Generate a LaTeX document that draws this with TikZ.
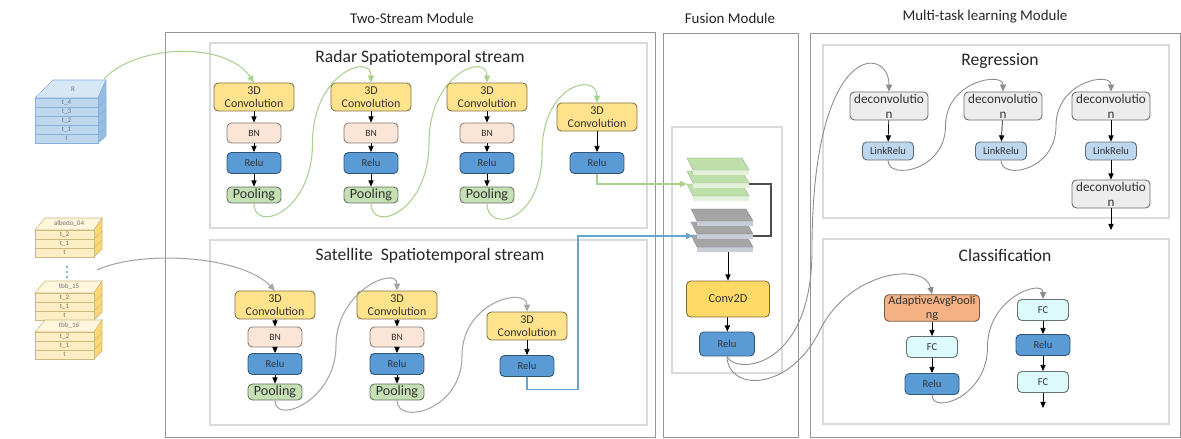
\documentclass[tikz,border=0pt]{standalone}
\usepackage{fontspec}
\setmainfont{Carlito}
\usetikzlibrary{arrows.meta,calc}

\definecolor{convfill}{RGB}{255,226,140}
\definecolor{bnfill}{RGB}{251,229,214}
\definecolor{relufill}{RGB}{91,155,213}
\definecolor{poolfill}{RGB}{197,224,180}
\definecolor{ctwofill}{RGB}{255,217,102}
\definecolor{defill}{RGB}{237,237,237}
\definecolor{lrfill}{RGB}{189,215,238}
\definecolor{aapfill}{RGB}{244,177,131}
\definecolor{fcfill}{RGB}{221,250,252}
\definecolor{modline}{RGB}{150,150,150}
\definecolor{subline}{RGB}{218,218,218}
\definecolor{radarflow}{RGB}{169,209,142}
\definecolor{satflow}{RGB}{165,165,165}
\definecolor{satlink}{RGB}{100,165,205}
\definecolor{rfront}{RGB}{189,215,238}
\definecolor{rtop}{RGB}{214,231,246}
\definecolor{rside}{RGB}{150,190,228}
\definecolor{redge}{RGB}{140,175,215}
\definecolor{sfront}{RGB}{253,238,195}
\definecolor{stop}{RGB}{255,246,220}
\definecolor{sside}{RGB}{250,215,115}
\definecolor{sedge}{RGB}{205,185,125}
\definecolor{gtop}{RGB}{190,222,170}
\definecolor{gedge}{RGB}{228,242,220}
\definecolor{ktop}{RGB}{165,165,165}
\definecolor{kedge}{RGB}{200,205,215}

\tikzset{
  box/.style={draw, rounded corners=2.5pt, align=center, inner sep=0.5pt, text=black!80, line width=0.5pt},
  conv/.style={box, fill=convfill, draw=convfill!50!black, minimum width=1.6cm, minimum height=0.56cm, font=\fontsize{6.8}{7.5}\selectfont},
  bn/.style={box, fill=bnfill, draw=bnfill!55!black, minimum width=1.08cm, minimum height=0.4cm, font=\fontsize{5.5}{6}\selectfont},
  relu/.style={box, fill=relufill, draw=relufill!55!black, minimum width=1.08cm, minimum height=0.42cm, font=\fontsize{6}{7}\selectfont},
  pool/.style={box, fill=poolfill, draw=poolfill!50!black, minimum width=1.08cm, minimum height=0.32cm, font=\fontsize{8}{9}\selectfont},
  convtwo/.style={box, fill=ctwofill, draw=ctwofill!50!black, minimum width=1.66cm, minimum height=0.72cm, font=\fontsize{7}{8}\selectfont},
  deconv/.style={box, fill=defill, draw=defill!45!black, minimum width=1.56cm, minimum height=0.56cm, font=\fontsize{7.5}{8.5}\selectfont},
  lrelu/.style={box, fill=lrfill, draw=lrfill!50!black, minimum width=1.02cm, minimum height=0.36cm, font=\fontsize{6}{7}\selectfont},
  aap/.style={box, fill=aapfill, draw=aapfill!50!black, minimum width=1.9cm, minimum height=0.52cm, font=\fontsize{7}{8}\selectfont},
  fc/.style={box, fill=fcfill, draw=fcfill!45!black, minimum width=1.02cm, minimum height=0.42cm, font=\fontsize{6}{7}\selectfont},
  head/.style={font=\fontsize{8.5}{10}\selectfont, text=black!85},
  title/.style={font=\fontsize{10}{12}\selectfont, text=black!85},
  stklab/.style={font=\fontsize{4}{4}\selectfont, text=black!55, inner sep=0pt},
  module/.style={draw=modline, line width=0.5pt},
  stream/.style={draw=subline, line width=0.6pt},
  nxt/.style={-{Triangle[length=3.5pt,width=3pt]}, black, line width=0.4pt},
  rflow/.style={-{Triangle[length=4pt,width=3.5pt]}, radarflow, line width=0.6pt},
  sflow/.style={-{Triangle[length=4pt,width=3.5pt]}, satflow, line width=0.6pt},
  mflow/.style={-{Triangle[length=4pt,width=3.5pt]}, black!45, line width=0.5pt},
}

\begin{document}
\begin{tikzpicture}[x=0.02cm, y=-0.02cm]

\useasboundingbox (0,0) rectangle (1181,439);
\fill[white] (0,0) rectangle (1181,439);

% modules
\draw[module] (165,32) rectangle (655,437);
\draw[module] (663,33) rectangle (798,437);
\draw[module] (810,33) rectangle (1180,437);
\draw[stream] (210,43) rectangle (647,228);
\draw[stream] (210,240) rectangle (647,425);
\draw[stream] (672,127) rectangle (782,373);
\draw[stream] (823,45) rectangle (1169,218);
\draw[stream] (823,239) rectangle (1169,424);

\node[head] (tsm) at (412,18) {Two-Stream Module};
\node[head] (fm) at (730,18) {Fusion Module};
\node[head] (mtl) at (985,17) {Multi-task learning Module};
\node[title] (rst) at (420,58) {Radar Spatiotemporal stream};
\node[title] (sst) at (430,256) {Satellite\ \ Spatiotemporal stream};
\node[title] (reg) at (1000,61) {Regression};
\node[title] (cls) at (1005,255) {Classification};

% radar input
\filldraw[fill=rtop, draw=redge, line width=0.3pt] (35,98) -- (53,80) -- (106,80) -- (98,98) -- cycle;
\filldraw[fill=rside, draw=redge, line width=0.3pt] (98,98) -- (106,80) -- (106,136) -- (98,143) -- cycle;
\foreach \lab [count=\i] in {t\_4,t\_3,t\_2,t\_1,t} {
  \filldraw[fill=rfront, draw=redge, line width=0.3pt] (35,89+9*\i) rectangle (98,98+9*\i);
  \draw[redge, line width=0.3pt] (98,98+9*\i) -- (106,91+9*\i);
  \node[stklab] (rin\i) at (66.5,93.5+9*\i) {\lab};
}
\node[stklab] (rintop) at (73,89) {R};
\coordinate (rsrc) at (104,79);

% satellite input
\foreach \y/\lab/\nm in {230/albedo\_04/sa, 293/tbb\_15/sb, 332/tbb\_16/sc} {
  \filldraw[fill=stop, draw=sedge, line width=0.3pt] (35,\y) -- (45,\y-12) -- (102,\y-12) -- (94,\y) -- cycle;
  \filldraw[fill=sside, draw=sedge, line width=0.3pt] (94,\y) -- (102,\y-12) -- (102,\y+19) -- (94,\y+27) -- cycle;
  \node[stklab] (\nm top) at (69,\y-6) {\lab};
  \foreach \t [count=\i] in {t\_2,t\_1,t} {
    \filldraw[fill=sfront, draw=sedge, line width=0.3pt] (35,\y+9*\i-9) rectangle (94,\y+9*\i);
    \draw[sedge, line width=0.3pt] (94,\y+9*\i) -- (102,\y+9*\i-8);
    \node[stklab] (\nm\i) at (64.5,\y+9*\i-4.5) {\t};
  }
}
\foreach \k in {0,1,2}
  \fill[relufill] (67,267+5*\k) circle (0.6pt);
\coordinate (ssrc) at (97,270);

% radar stream
\node[conv] (rc1) at (254,97) {3D\\Convolution};
\node[bn] (rb1) at (254,133) {BN};
\node[relu] (rr1) at (254,163) {Relu};
\node[pool] (rp1) at (254,195) {Pooling};
\node[conv] (rc2) at (371,97) {3D\\Convolution};
\node[bn] (rb2) at (371,133) {BN};
\node[relu] (rr2) at (371,163) {Relu};
\node[pool] (rp2) at (371,195) {Pooling};
\node[conv] (rc3) at (487,97) {3D\\Convolution};
\node[bn] (rb3) at (487,133) {BN};
\node[relu] (rr3) at (487,163) {Relu};
\node[pool] (rp3) at (487,195) {Pooling};
\node[conv] (rc4) at (597,117) {3D\\Convolution};
\node[relu] (rr4) at (597,163) {Relu};

% satellite stream
\node[conv] (sc1) at (275,305) {3D\\Convolution};
\node[bn] (sb1) at (275,337) {BN};
\node[relu] (sr1) at (275,364) {Relu};
\node[pool] (sp1) at (275,392) {Pooling};
\node[conv] (sc2) at (397,305) {3D\\Convolution};
\node[bn] (sb2) at (397,337) {BN};
\node[relu] (sr2) at (397,364) {Relu};
\node[pool] (sp2) at (397,392) {Pooling};
\node[conv] (sc3) at (527,326) {3D\\Convolution};
\node[relu] (sr3) at (527,366) {Relu};

\foreach \a/\b in {rc1/rb1, rb1/rr1, rr1/rp1, rc2/rb2, rb2/rr2, rr2/rp2, rc3/rb3, rb3/rr3, rr3/rp3, rc4/rr4,
                   sc1/sb1, sb1/sr1, sr1/sp1, sc2/sb2, sb2/sr2, sr2/sp2, sc3/sr3}
  \draw[nxt] (\a) -- (\b);

% fusion
\foreach \dy in {26,13,0} {
  \fill[gedge] (693,170+\dy) rectangle (749,175+\dy);
  \filldraw[fill=gtop, draw=gtop!80!black, line width=0.2pt] (687,158+\dy) -- (742,158+\dy) -- (749,170+\dy) -- (693,170+\dy) -- cycle;
  \fill[kedge] (697,221+\dy) rectangle (753,226+\dy);
  \filldraw[fill=ktop, draw=ktop!80!black, line width=0.2pt] (691,209+\dy) -- (746,209+\dy) -- (753,221+\dy) -- (697,221+\dy) -- cycle;
}
\coordinate (gin) at (687,184);
\coordinate (gout) at (749,184);
\coordinate (kin) at (693,236);
\coordinate (kout) at (753,236);
\coordinate (kbot) at (728,252);
\coordinate (kturn) at (578,236);

\node[convtwo] (c2d) at (728,299) {Conv2D};
\node[relu, minimum width=1.1cm, minimum height=0.48cm] (fr) at (727,344) {Relu};

\draw[black!70, line width=0.6pt] (gout) -- ++(22,0) |- (kout);
\draw[nxt] (kbot) -- (c2d.north);
\draw[nxt] (c2d) -- (fr);

% regression
\node[deconv] (d1) at (889,106) {deconvolutio\\n};
\node[lrelu] (l1) at (888,151) {LinkRelu};
\node[deconv] (d2) at (1003,106) {deconvolutio\\n};
\node[lrelu] (l2) at (1001,151) {LinkRelu};
\node[deconv] (d3) at (1111,106) {deconvolutio\\n};
\node[lrelu] (l3) at (1111,151) {LinkRelu};
\node[deconv] (d4) at (1111,194) {deconvolutio\\n};
\coordinate (regout) at (1111,230);

\draw[nxt] (d1) -- (l1);
\draw[nxt] (d2) -- (l2);
\draw[nxt] (d3) -- (l3);
\draw[nxt] (l3) -- (d4);
\draw[nxt] (d4) -- (regout);

% classification
\node[aap] (aap) at (932,308) {AdaptiveAvgPooli\\ng};
\node[fc] (f1) at (932,347) {FC};
\node[relu] (cr1) at (932,384) {Relu};
\node[fc] (f2) at (1043,310) {FC};
\node[relu] (cr2) at (1043,345) {Relu};
\node[fc] (f3) at (1043,382) {FC};
\coordinate (clsout) at (1043,408);

\draw[nxt] (aap) -- (f1);
\draw[nxt] (f1) -- (cr1);
\draw[nxt] (f2) -- (cr2);
\draw[nxt] (cr2) -- (f3);
\draw[nxt] (f3) -- (clsout);

% links
\draw[rflow] (rsrc) .. controls (135,45) and (225,40) .. (rc1.north);
\foreach \a/\b in {rp1/rc2, rp2/rc3, rp3/rc4}
  \draw[rflow] (\a.south) .. controls +(0,30) and +(0,70) .. ($(\a.south)!.5!(\b.north)$) .. controls +(0,-70) and +(0,-30) .. (\b.north);
\draw[rflow] (rr4.south) |- (gin);

\draw[sflow] (ssrc) .. controls (140,250) and (240,255) .. (sc1.north);
\foreach \a/\b in {sp1/sc2, sp2/sc3}
  \draw[sflow] (\a.south) .. controls +(0,25) and +(0,55) .. ($(\a.south)!.5!(\b.north)$) .. controls +(0,-55) and +(0,-25) .. (\b.north);
\draw[-{Triangle[length=4pt,width=3.5pt]}, satlink, line width=0.6pt] (sr3.south) -- ++(0,13) -| (kturn) -- (kin);

\draw[mflow] (fr.south) .. controls (735,375) and (812,370) .. (812,250) .. controls (812,40) and (889,45) .. (d1.north);
\draw[mflow] (fr.south) .. controls (728,392) and (790,392) .. (820,330) .. controls (850,270) and (925,262) .. (aap.north);
\foreach \a/\b in {l1/d2, l2/d3}
  \draw[mflow] (\a.south) .. controls +(0,20) and +(0,45) .. ($(\a.south)!.5!(\b.north)$) .. controls +(0,-45) and +(0,-20) .. (\b.north);
\draw[mflow] (cr1.south) .. controls +(0,20) and +(0,50) .. ($(cr1.south)!.5!(f2.north)$) .. controls +(0,-50) and +(0,-20) .. (f2.north);

\end{tikzpicture}
\end{document}
